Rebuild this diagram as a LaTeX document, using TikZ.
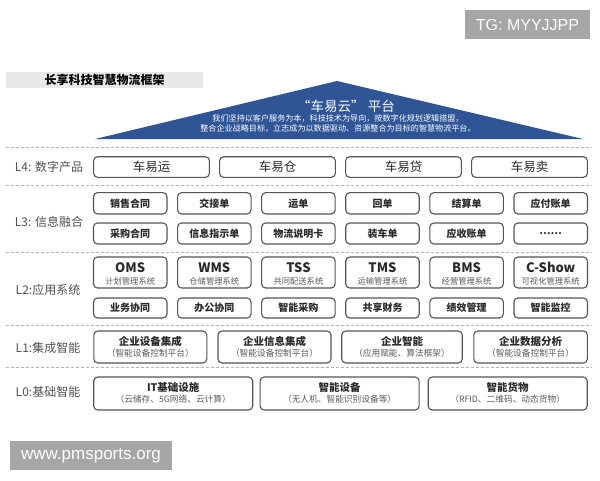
\documentclass[tikz,border=0pt]{standalone}
\usepackage{fontspec}
\setmainfont{Noto Sans CJK SC}
\newfontfamily\wmfont{Liberation Sans}
\definecolor{triblue}{HTML}{2F5597}
\definecolor{boxline}{HTML}{50545C}
\definecolor{sepgray}{HTML}{B4B4B4}
\definecolor{labgray}{HTML}{4F4F4F}
\definecolor{txtdark}{HTML}{2A2A2A}
\definecolor{subgray}{HTML}{5A5A5A}
\definecolor{wmgray}{HTML}{A6A6A6}
\definecolor{titlebg}{HTML}{E8E8E8}
\begin{document}
\begin{tikzpicture}[x=1pt,y=-1pt,
  box/.style={draw=boxline, line width=1.1pt, rounded corners=4pt, fill=white, inner sep=0pt},
  lab/.style={font=\fontsize{12}{14}\selectfont, text=labgray},
  sepline/.style={draw=sepgray, line width=0.8pt, dash pattern=on 3pt off 2pt},
  btxt/.style={font=\fontsize{10}{12}\selectfont\bfseries, text=txtdark},
  ttl/.style={font=\fontsize{10.5}{12}\selectfont\bfseries, text=txtdark},
  sub/.style={font=\fontsize{8.7}{10}\selectfont, text=subgray},
  wm/.style={fill=wmgray, text=white, inner sep=0pt}
]
\path[use as bounding box] (0,0) rectangle (600,480);

% watermarks
\node[wm, minimum width=125pt, minimum height=29pt, font=\wmfont\fontsize{16}{18}\selectfont] (tg) at (527.5,24.5) {TG: MYYJJPP};
\node[wm, minimum width=162pt, minimum height=29pt, font=\wmfont\fontsize{17}{19}\selectfont] (www) at (91,455.5) {www.pmsports.org};

% title
\node[fill=titlebg, minimum width=197pt, minimum height=16pt, inner sep=0pt,
      font=\fontsize{12}{14}\selectfont\bfseries] (title) at (104.5,80) {长享科技智慧物流框架};

% roof triangle
\coordinate (tl) at (95,139);
\coordinate (ta) at (337,81);
\coordinate (tr) at (583,139);
\fill[triblue] (tl) -- (ta) -- (tr) -- cycle;
\node[text=white, font=\fontsize{13.5}{16}\selectfont] (cloud) at (346,106.5) {“车易云” 平台};
\node[text=white, font=\fontsize{8.1}{10}\selectfont, align=center] (mission) at (338,123.3)
  {我们坚持以客户服务为本，科技技术为导向，按数字化规划逻辑搭盟，\\整合企业战略目标，立志成为以数据驱动、资源整合为目标的智慧物流平台。};

% separators
\foreach \yy in {147,185,252,325,367} \draw[sepline] (6,\yy) -- (592,\yy);

% layer labels
\node[lab] (labL4) at (49,166.5) {L4: 数字产品};
\node[lab] (labL3) at (49,221.5) {L3: 信息融合};
\node[lab] (labL2) at (48,290) {L2:应用系统};
\node[lab] (labL1) at (48,348) {L1:集成智能};
\node[lab] (labL0) at (48,392) {L0:基础智能};

% L4
\foreach \t [count=\i] in {车易运,车易仓,车易贷,车易卖}
  \node[box, minimum width=115.8pt, minimum height=20.6pt, text=txtdark,
        font=\fontsize{12.5}{14}\selectfont] (l4n\i) at ({151.5+126*(\i-1)},167) {\t};

% L3
\foreach \t [count=\i] in {销售合同,交接单,运单,回单,结算单,应付账单}
  \node[box, btxt, minimum width=73.5pt, minimum height=21.3pt] (l3a\i) at ({130.2+84.1*(\i-1)},203.3) {\t};
\foreach \t [count=\i] in {采购合同,信息指示单,物流说明卡,装车单,应收账单,……}
  \node[box, btxt, minimum width=73.5pt, minimum height=21pt] (l3b\i) at ({130.2+84.1*(\i-1)},233.5) {\t};

% L2
\foreach \t/\s [count=\i] in {OMS/计划管理系统,WMS/仓储管理系统,TSS/共同配送系统,TMS/运输管理系统,BMS/经营管理系统,C-Show/可视化管理系统}{
  \node[box, minimum width=73.5pt, minimum height=31pt] (l2a\i) at ({130.2+84.1*(\i-1)},272.5) {};
  \node[font=\fontsize{13}{15}\selectfont\bfseries, text=txtdark] (l2t\i) at ({130.2+84.1*(\i-1)},267.5) {\t};
  \node[font=\fontsize{8.3}{10}\selectfont, text=subgray] (l2s\i) at ({130.2+84.1*(\i-1)},281) {\s};
}
\foreach \t [count=\i] in {业务协同,办公协同,智能采购,共享财务,绩效管理,智能监控}
  \node[box, btxt, minimum width=73.5pt, minimum height=20pt] (l2b\i) at ({130.2+84.1*(\i-1)},308) {\t};

% L1
\foreach \cx/\w/\t/\s [count=\i] in {150.3/113/企业设备集成/（智能设备控制平台）,274.5/113/企业信息集成/（智能设备控制平台）,402/120.5/企业智能/（应用赋能、算法框架）,530.6/113.6/企业数据分析/（智能设备控制平台）}{
  \node[box, minimum width=\w pt, minimum height=32pt] (l1n\i) at (\cx,347) {};
  \node[ttl] (l1t\i) at (\cx,341.5) {\t};
  \node[sub] (l1s\i) at (\cx,353.5) {\s};
}

% L0
\foreach \cx/\t/\s [count=\i] in {173.2/IT基础设施/（云储存、5G网络、云计算）,339.6/智能设备/（无人机、智能识别设备等）,507.7/智能货物/（RFID、二维码、动态货物）}{
  \node[box, minimum width=159pt, minimum height=33pt] (l0n\i) at (\cx,393.5) {};
  \node[ttl] (l0t\i) at (\cx,387) {\t};
  \node[sub] (l0s\i) at (\cx,399.5) {\s};
}
\end{tikzpicture}
\end{document}
